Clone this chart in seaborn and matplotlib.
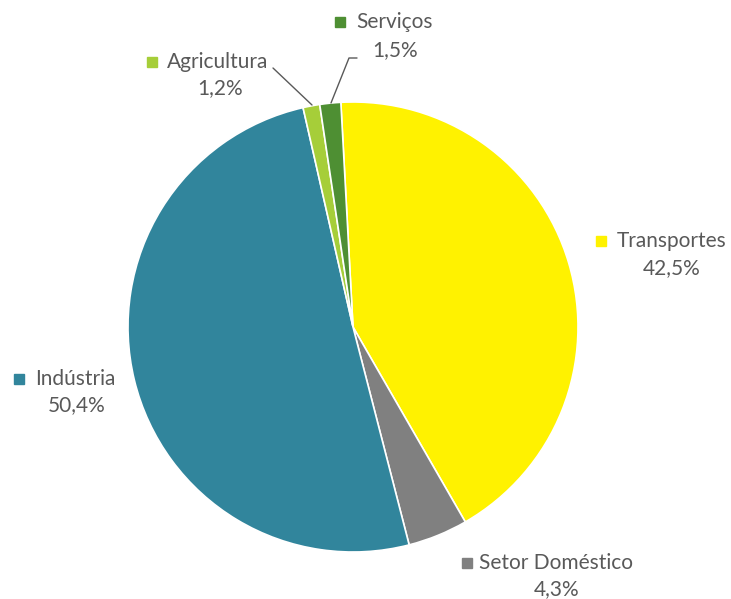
import matplotlib
matplotlib.use("Agg")
import matplotlib.pyplot as plt
import seaborn as sns

# ---- data ----
categories = ["Transportes", "Setor Doméstico", "Indústria", "Agricultura", "Serviços"]
shares = [42.5, 4.3, 50.4, 1.2, 1.5]
colors = ["#FFF200", "#808080", "#31859C", "#A6CE39", "#4E8F33"]

sns.set_theme(style="white")
plt.rcParams["font.family"] = ["Lato", "DejaVu Sans"]

W, H = 731, 599
fig = plt.figure(figsize=(W / 100, H / 100), dpi=100)
ax = fig.add_axes([0, 0, 1, 1])
ax.set_xlim(0, W)
ax.set_ylim(0, H)
ax.set_aspect("equal")
ax.axis("off")

cx, cy, r = 353, H - 327, 225
ax.pie(shares, colors=colors, startangle=93.1, counterclock=False,
       center=(cx, cy), radius=r, frame=True,
       wedgeprops=dict(edgecolor="white", linewidth=1.2))
ax.set_xlim(0, W)
ax.set_ylim(0, H)
ax.axis("off")

text_color = "#595959"
fs = 15
# label layout: (name-left x, name y, percent centre x, percent y, square x)
layout = {
    "Transportes": (617, 241, 672, 268, 601),
    "Setor Doméstico": (479, 563, 557, 589, 467),
    "Indústria": (35, 379, 77, 405, 19),
    "Agricultura": (167, 62, 220, 88, 152),
    "Serviços": (356, 22, 395, 50, 340),
}

for cat, val, col in zip(categories, shares, colors):
    nx, ny, px, py, sx = layout[cat]
    ax.plot([sx], [H - ny], marker="s", markersize=6.5, color=col,
            linestyle="none")
    ax.text(nx, H - ny, cat, fontsize=fs, color=text_color,
            ha="left", va="center")
    ax.text(px, H - py, f"{val:.1f}%".replace(".", ","), fontsize=fs,
            color=text_color, ha="center", va="center")

# leader lines
ax.plot([273, 312], [H - 68, H - 105], color="#595959", linewidth=1)
ax.plot([357, 349, 331], [H - 58, H - 58, H - 103], color="#595959", linewidth=1)

fig.savefig("out.png", dpi=100)
